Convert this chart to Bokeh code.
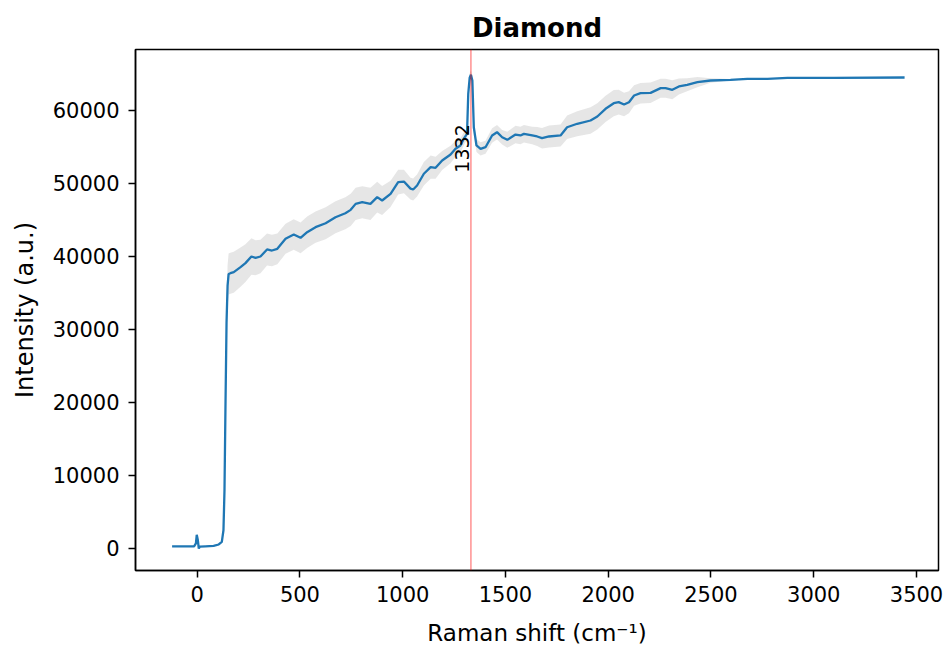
import math
from bokeh.plotting import figure
from bokeh.models import Range1d, FixedTicker, NumeralTickFormatter, Span, ColumnDataSource
from bokeh.core.properties import value
from bokeh.embed import file_html
from bokeh.resources import INLINE

# Raman shift (cm^-1)
shift = [-122, -60, -15, -6, -2, 3, 8, 13, 40, 80, 105, 120, 128, 133, 138, 143, 148, 153,
         162, 178, 211, 235, 264, 284, 308, 340, 364, 390, 430, 470, 503, 535, 576, 625,
         673, 721, 747, 771, 803, 843, 876, 900, 941, 978, 1006, 1038, 1051, 1070, 1103,
         1136, 1160, 1192, 1233, 1257, 1281, 1300, 1313, 1319, 1326, 1332, 1339, 1346,
         1359, 1379, 1403, 1435, 1459, 1484, 1509, 1549, 1573, 1590, 1630, 1654, 1678,
         1712, 1768, 1800, 1849, 1914, 1947, 1987, 2027, 2051, 2077, 2101, 2126, 2157,
         2206, 2255, 2279, 2312, 2344, 2384, 2434, 2498, 2595, 2677, 2775, 2872, 3098, 3442]

# mean intensity (a.u.)
intensity = [280, 280, 290, 700, 1880, 1200, 0, 250, 290, 350, 550, 900, 2500, 8000, 20000,
             31000, 36000, 37600,
             37710, 37850, 38540, 39090, 40000, 39820, 40000, 40960, 40820, 41050, 42420, 43010,
             42560, 43330, 44020, 44560, 45380, 45930, 46390, 47210, 47440, 47210, 48130, 47670,
             48590, 50180, 50270, 49300, 49180, 49730, 51330, 52240, 52150, 53150, 53970, 54750,
             55210, 56260, 56800, 62290, 64500, 64900, 64110, 57710, 55210, 54750, 54970, 56580,
             57030, 56340, 55980, 56710, 56580, 56800, 56580, 56440, 56210, 56440, 56580, 57710,
             58180, 58630, 59180, 60230, 61000, 61140, 60820, 61140, 62050, 62370, 62420, 63060,
             63060, 62830, 63290, 63520, 63880, 64110, 64200, 64340, 64340, 64480, 64480, 64520]

# spread (half width of shaded band)
spread = [0, 0, 0, 0, 0, 0, 0, 0, 0, 0, 0, 0, 300, 1000, 2000, 2600, 2800, 2800,
          2800, 2800, 2700, 2600, 2500, 2400, 2300, 2200, 2150, 2100, 2050, 2100,
          2100, 2150, 2150, 2200, 2200, 2200, 2200, 2200, 2200, 2200, 2100, 2000,
          1800, 1700, 1600, 1500, 1500, 1500, 1600, 1600, 1500, 1300, 1200, 1100,
          1000, 900, 800, 700, 600, 600, 600, 700, 900, 900, 900, 1000,
          1000, 1000, 1100, 1200, 1200, 1200, 1200, 1300, 1400, 1500, 1500, 1600,
          1700, 1800, 1800, 1800, 1800, 1700, 1600, 1500, 1400, 1400, 1400, 1300,
          1300, 1300, 1100, 900, 700, 300, 100, 50, 30, 20, 10, 10]

peak_pos = 1332
peak_label = "1332"

lower = [m - s for m, s in zip(intensity, spread)]
upper = [m + s for m, s in zip(intensity, spread)]
src = ColumnDataSource(dict(x=shift, y=intensity, lo=lower, hi=upper))

FONT = "DejaVu Sans"

p = figure(width=950, height=649, output_backend="svg", toolbar_location=None,
           x_range=Range1d(-300, 3607), y_range=Range1d(-3014, 68356),
           min_border_left=135, min_border_right=12, min_border_top=49, min_border_bottom=79,
           title="Diamond")
p.title.align = "center"
p.title.vertical_align = "top"
p.title.text_font = FONT
p.title.text_font_size = "26px"
p.title.text_font_style = "bold"
p.title.text_color = "black"
p.title.standoff = 10

p.varea(x="x", y1="lo", y2="hi", source=src, fill_color="#808080", fill_alpha=0.2)
p.line(x="x", y="y", source=src, line_color="#1f77b4", line_width=2.3)

p.add_layout(Span(location=peak_pos, dimension="height", line_color="red",
                  line_alpha=0.5, line_width=1.3))
p.text(x=[peak_pos], y=[54800], text=[peak_label], angle=math.pi / 2, x_offset=-2,
       text_align="center", text_baseline="bottom", text_font=value(FONT),
       text_font_size="19px", text_color="black")

p.grid.visible = False
p.outline_line_color = "black"
p.outline_line_width = 1.5
p.outline_line_alpha = 1

p.xaxis.ticker = FixedTicker(ticks=[0, 500, 1000, 1500, 2000, 2500, 3000, 3500])
p.yaxis.ticker = FixedTicker(ticks=[0, 10000, 20000, 30000, 40000, 50000, 60000])
p.yaxis.formatter = NumeralTickFormatter(format="0")
p.xaxis.formatter = NumeralTickFormatter(format="0")
p.xaxis.axis_label = "Raman shift (cm\u207b\u00b9)"
p.yaxis.axis_label = "Intensity (a.u.)"
for ax in (p.xaxis, p.yaxis):
    ax.axis_label_text_font = FONT
    ax.axis_label_text_font_style = "normal"
    ax.axis_label_text_color = "black"
    ax.major_label_text_font = FONT
    ax.major_label_text_font_size = "21px"
    ax.major_label_text_color = "black"
    ax.major_tick_out = 7
    ax.major_tick_in = 0
    ax.minor_tick_out = 0
    ax.minor_tick_in = 0
    ax.major_tick_line_width = 1.5
    ax.axis_line_width = 1.5
    ax.major_tick_line_color = "black"
    ax.axis_line_color = "black"
p.xaxis.axis_label_text_font_size = "23px"
p.yaxis.axis_label_text_font_size = "24px"
p.xaxis.major_label_standoff = 8
p.xaxis.axis_label_standoff = 15
p.yaxis.major_label_standoff = 9
p.yaxis.axis_label_standoff = 11

open("out.html", "w").write(file_html(p, INLINE))
